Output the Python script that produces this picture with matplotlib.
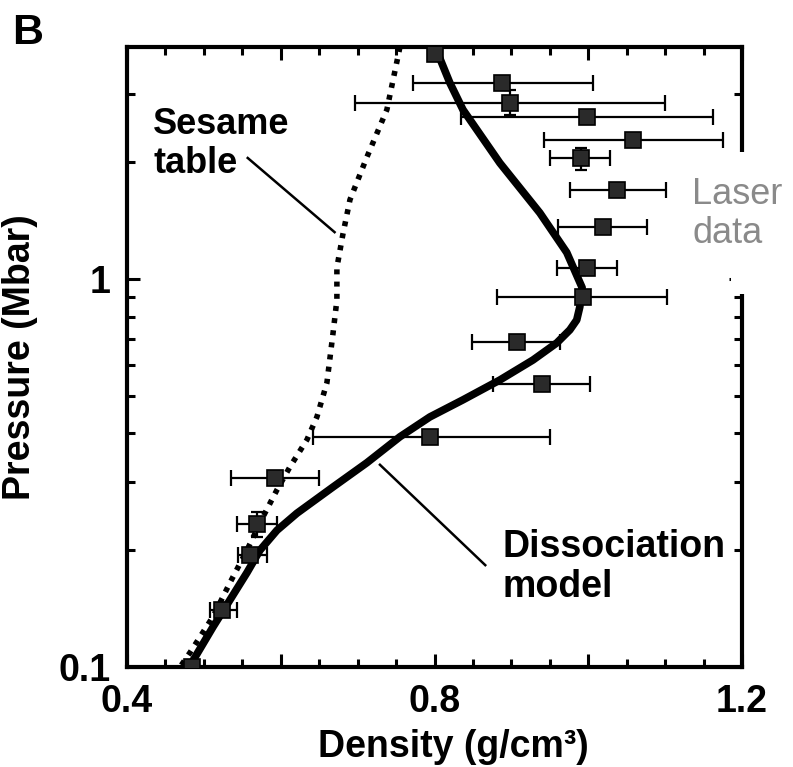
import numpy as np
import matplotlib
matplotlib.use("Agg")
import matplotlib.pyplot as plt
from matplotlib.ticker import FixedLocator, LogLocator, NullFormatter, MultipleLocator
from matplotlib.patches import Rectangle

plt.rcParams['font.family'] = ['Liberation Sans', 'DejaVu Sans']
plt.rcParams['font.weight'] = 'bold'

# laser data (density g/cm3, pressure Mbar) with error bars
rho = [0.888, 0.898, 0.998, 1.058, 0.990, 1.037, 1.019, 0.999,
       0.993, 0.907, 0.940, 0.794, 0.592, 0.569, 0.560, 0.524]
pres = [3.20, 2.84, 2.62, 2.28, 2.05, 1.70, 1.36, 1.07,
        0.90, 0.688, 0.536, 0.392, 0.307, 0.234, 0.194, 0.140]
rho_lo = [0.772, 0.696, 0.834, 0.942, 0.950, 0.976, 0.960, 0.959,
          0.881, 0.849, 0.876, 0.642, 0.535, 0.543, 0.544, 0.508]
rho_hi = [1.006, 1.100, 1.162, 1.175, 1.028, 1.101, 1.077, 1.038,
          1.103, 0.963, 1.002, 0.950, 0.650, 0.595, 0.582, 0.543]
pres_lo = [3.20, 2.65, 2.62, 2.28, 1.91, 1.70, 1.36, 1.07,
           0.90, 0.688, 0.536, 0.392, 0.307, 0.216, 0.194, 0.140]
pres_hi = [3.20, 3.07, 2.62, 2.28, 2.17, 1.70, 1.36, 1.07,
           0.90, 0.688, 0.536, 0.392, 0.307, 0.251, 0.194, 0.140]

# points cut by the frame
rho_edge = [0.800, 0.485]
pres_edge = [3.80, 0.100]

# dissociation model (solid)
diss_rho = [0.800, 0.820, 0.837, 0.885, 0.937, 0.972, 0.992, 0.989, 0.985,
            0.976, 0.959, 0.928, 0.885, 0.837, 0.794, 0.755, 0.712, 0.668,
            0.621, 0.595, 0.573, 0.556, 0.534, 0.512, 0.486, 0.478]
diss_p = [4.0, 3.2, 2.73, 1.99, 1.48, 1.17, 0.95, 0.847, 0.784,
          0.739, 0.684, 0.618, 0.549, 0.488, 0.441, 0.392, 0.336, 0.291,
          0.249, 0.225, 0.200, 0.175, 0.149, 0.127, 0.104, 0.098]

# sesame table (dotted)
ses_rho = [0.755, 0.738, 0.712, 0.690, 0.681, 0.673, 0.673, 0.668, 0.660,
           0.647, 0.634, 0.612, 0.595, 0.577, 0.556, 0.534, 0.512, 0.482,
           0.469]
ses_p = [3.96, 2.73, 2.06, 1.60, 1.31, 1.07, 0.883, 0.726, 0.540,
         0.441, 0.385, 0.328, 0.286, 0.244, 0.200, 0.165, 0.135, 0.109,
         0.100]

fig = plt.figure(figsize=(7.93, 7.67), dpi=100)
ax = fig.add_axes([0.1602, 0.1304, 0.7755, 0.8083])

ax.plot(ses_rho, ses_p, color='black', lw=4.0, linestyle=(0, (0.9, 1.3)),
        dash_capstyle='butt', zorder=2)
ax.plot(diss_rho, diss_p, color='black', lw=5.5, solid_joinstyle='round',
        solid_capstyle='butt', zorder=3)

rho_a = np.array(rho)
p_a = np.array(pres)
xerr = [rho_a - np.array(rho_lo), np.array(rho_hi) - rho_a]
ax.errorbar(rho_a, p_a, xerr=xerr, fmt='none', ecolor='black', elinewidth=1.6,
            capsize=6, capthick=1.6, zorder=4)
ylo = p_a - np.array(pres_lo)
yhi = np.array(pres_hi) - p_a
m = (ylo > 0) | (yhi > 0)
ax.errorbar(rho_a[m], p_a[m], yerr=[ylo[m], yhi[m]], fmt='none', ecolor='black',
            elinewidth=1.6, capsize=4, capthick=1.6, zorder=4)
ax.plot(rho_a, p_a, 's', ms=11, mfc='#2a2a2a', mec='black', mew=1.2, zorder=5)
ax.plot(rho_edge, pres_edge, 's', ms=11, mfc='#2a2a2a', mec='black', mew=1.2, zorder=5)

ax.set_yscale('log')
ax.set_xlim(0.4, 1.2)
ax.set_ylim(0.1, 3.96)

ax.xaxis.set_major_locator(FixedLocator([0.4, 0.6, 0.8, 1.0, 1.2]))
ax.set_xticklabels(['0.4', '', '0.8', '', '1.2'])
ax.xaxis.set_minor_locator(MultipleLocator(0.05))
ax.yaxis.set_major_locator(FixedLocator([0.1, 1.0]))
ax.set_yticklabels(['0.1', '1'])
ax.yaxis.set_minor_locator(LogLocator(base=10, subs=np.arange(2, 10)))
ax.yaxis.set_minor_formatter(NullFormatter())

ax.tick_params(which='both', direction='in', top=True, right=True, width=2.2)
ax.tick_params(which='major', length=9.5, labelsize=27, pad=12)
ax.tick_params(which='minor', length=5.5)
for sp in ax.spines.values():
    sp.set_linewidth(3)

ax.set_xlabel('Density (g/cm³)', fontsize=27, fontweight='bold')
ax.xaxis.set_label_coords(0.53, -0.10)
ax.set_ylabel('Pressure (Mbar)', fontsize=27, fontweight='bold')
ax.yaxis.set_label_coords(-0.145, 0.5)

# annotations
ax.text(0.434, 2.78, 'Sesame\ntable', fontsize=26, fontweight='bold',
        ha='left', va='top', linespacing=1.15)
ax.plot([0.557, 0.670], [2.05, 1.32], color='black', lw=1.8, zorder=3)
ax.text(0.889, 0.227, 'Dissociation\nmodel', fontsize=27, fontweight='bold',
        ha='left', va='top', linespacing=1.15, zorder=6)
ax.plot([0.866, 0.729], [0.183, 0.332], color='black', lw=1.8, zorder=3)

# white patch under the "Laser data" label hides part of the right frame
fig.patches.append(Rectangle((0.922, 0.6167), 0.078, 0.185, transform=fig.transFigure,
                             facecolor='white', edgecolor='none', zorder=3))
fig.text(692 / 793, 1 - 177 / 767, 'Laser\ndata', fontsize=26, fontweight='normal',
         color='#8a8a8a', ha='left', va='top', linespacing=1.15, zorder=4)

fig.text(12 / 793, 1 - 13 / 767, 'B', fontsize=31, fontweight='bold', ha='left', va='top')

fig.savefig('out.png', dpi=100)
